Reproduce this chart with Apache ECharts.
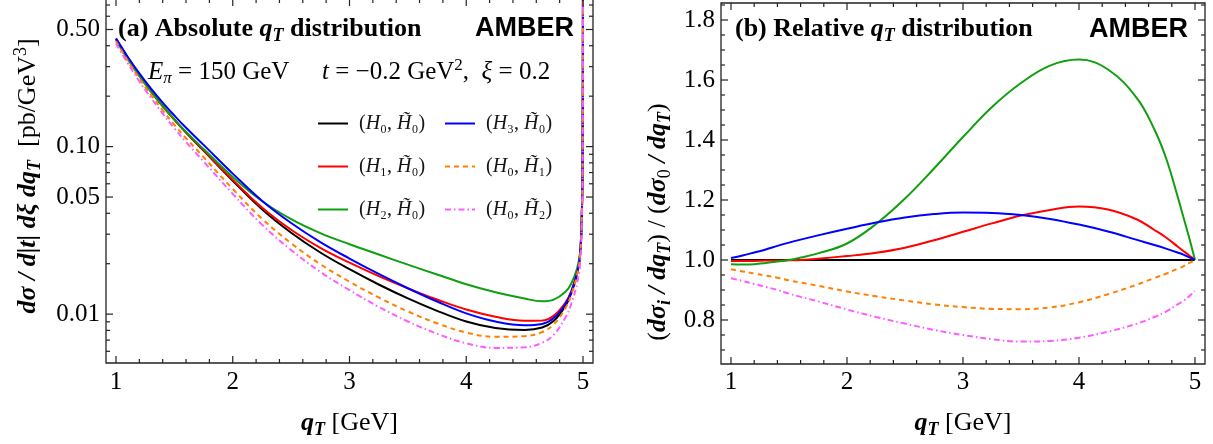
<!DOCTYPE html>
<html>
<head>
<meta charset="utf-8">
<script src="https://cdn.jsdelivr.net/npm/echarts@6/dist/echarts.min.js"></script>
<style>
  html, body { margin: 0; padding: 0; background: #fff; }
  #chart { width: 1213px; height: 444px; }
</style>
</head>
<body>
<div id="chart"></div>
<script>
// transverse momentum grid (GeV)
const qT = [1.0, 1.1, 1.2, 1.3, 1.4, 1.5, 1.6, 1.75, 2.0, 2.25, 2.5, 2.75, 3.0, 3.25, 3.5, 3.75,
            4.0, 4.25, 4.5, 4.65, 4.75, 4.85, 4.9, 4.95, 4.975, 4.99, 4.997, 5.0];

// (a) absolute cross sections, pb/GeV^3
const absH0H0 = [0.4395, 0.3388, 0.2667, 0.2143, 0.1750, 0.1449, 0.1213, 0.0946, 0.0625, 0.04227, 0.03062, 0.02333, 0.01854, 0.01503, 0.01242, 0.01047,
                 0.00904, 0.00826, 0.00805, 0.00832, 0.00912, 0.01122, 0.01334, 0.01750, 0.02244, 0.03882, 0.0946, 1.5];
const absH1H0 = [0.4382, 0.3378, 0.2659, 0.2139, 0.1747, 0.1448, 0.1213, 0.0950, 0.0633, 0.04328, 0.03188, 0.02487, 0.02028, 0.01686, 0.01426, 0.01222,
                 0.01065, 0.00965, 0.00914, 0.00915, 0.00980, 0.01172, 0.01374, 0.01776, 0.02262, 0.03894, 0.0947, 1.5];
const absH2H0 = [0.4333, 0.3337, 0.2630, 0.2122, 0.1741, 0.1449, 0.1223, 0.0967, 0.0659, 0.04734, 0.03690, 0.03045, 0.02614, 0.02270, 0.01975, 0.01725,
                 0.01508, 0.01351, 0.01239, 0.01194, 0.01222, 0.01360, 0.01525, 0.01880, 0.02327, 0.03940, 0.0950, 1.5];
const absH3H0 = [0.4426, 0.3439, 0.2734, 0.2218, 0.1832, 0.1533, 0.1295, 0.1024, 0.0690, 0.04755, 0.03497, 0.02690, 0.02147, 0.01739, 0.01428, 0.01190,
                 0.01011, 0.00904, 0.00859, 0.00874, 0.00947, 0.01150, 0.01358, 0.01766, 0.02255, 0.03890, 0.0947, 1.5];
const absH0H1 = [0.4259, 0.3259, 0.2547, 0.2032, 0.1647, 0.1350, 0.1122, 0.0865, 0.0559, 0.03716, 0.02649, 0.01988, 0.01563, 0.01258, 0.01038, 0.00882,
                 0.00777, 0.00732, 0.00739, 0.00782, 0.00870, 0.01089, 0.01306, 0.01733, 0.02233, 0.03874, 0.0945, 1.5];
const absH0H2 = [0.4127, 0.3151, 0.2454, 0.1950, 0.1575, 0.1287, 0.1064, 0.0815, 0.0522, 0.03424, 0.02413, 0.01789, 0.01391, 0.01106, 0.00904, 0.00764,
                 0.00670, 0.00629, 0.00634, 0.00674, 0.00755, 0.00956, 0.01153, 0.01538, 0.01993, 0.03471, 0.0849, 1.35];

// (b) ratios to the (H0, H~0) baseline
const relH0H0 = [1, 1, 1, 1, 1, 1, 1, 1, 1, 1, 1, 1, 1, 1, 1, 1, 1, 1, 1, 1, 1, 1, 1, 1, 1, 1, 1, 1];
const relH1H0 = [0.997, 0.997, 0.997, 0.998, 0.998, 0.999, 1.0, 1.004, 1.013, 1.024, 1.041, 1.066, 1.094, 1.122, 1.148, 1.167,
                 1.178, 1.168, 1.135, 1.10, 1.075, 1.045, 1.03, 1.015, 1.008, 1.003, 1.001, 1.0];
const relH2H0 = [0.986, 0.985, 0.986, 0.99, 0.995, 1.0, 1.008, 1.022, 1.055, 1.12, 1.205, 1.305, 1.41, 1.51, 1.59, 1.648,
                 1.668, 1.635, 1.539, 1.435, 1.34, 1.212, 1.143, 1.074, 1.037, 1.015, 1.004, 1.0];
const relH3H0 = [1.007, 1.015, 1.025, 1.035, 1.047, 1.058, 1.068, 1.082, 1.104, 1.125, 1.142, 1.153, 1.158, 1.157, 1.15, 1.137,
                 1.118, 1.095, 1.067, 1.05, 1.038, 1.025, 1.018, 1.009, 1.005, 1.002, 1.001, 1.0];
const relH0H1 = [0.969, 0.962, 0.955, 0.948, 0.941, 0.932, 0.925, 0.914, 0.895, 0.879, 0.865, 0.852, 0.843, 0.837, 0.836, 0.842,
                 0.859, 0.886, 0.918, 0.94, 0.954, 0.971, 0.979, 0.99, 0.995, 0.998, 0.999, 1.0];
const relH0H2 = [0.939, 0.93, 0.92, 0.91, 0.9, 0.888, 0.877, 0.862, 0.835, 0.81, 0.788, 0.767, 0.75, 0.736, 0.728, 0.730,
                 0.741, 0.761, 0.788, 0.81, 0.828, 0.852, 0.864, 0.879, 0.888, 0.894, 0.897, 0.898];

// ticks
const xMajorTicks = [1, 2, 3, 4, 5];
const xMinorTicks = [1.2, 1.4, 1.6, 1.8, 2.2, 2.4, 2.6, 2.8, 3.2, 3.4, 3.6, 3.8, 4.2, 4.4, 4.6, 4.8];
const absMajorTicks = [0.01, 0.05, 0.1, 0.5];
const absTickLabels = ['0.01', '0.05', '0.10', '0.50'];
const absMinorTicks = [0.006, 0.007, 0.008, 0.009, 0.02, 0.03, 0.04, 0.06, 0.07, 0.08, 0.09, 0.2, 0.3, 0.4, 0.6, 0.7];
const relMajorTicks = [0.8, 1.0, 1.2, 1.4, 1.6, 1.8];
const relTickLabels = ['0.8', '1.0', '1.2', '1.4', '1.6', '1.8'];
const relMinorTicks = [0.7, 0.75, 0.85, 0.9, 0.95, 1.05, 1.1, 1.15, 1.25, 1.3, 1.35, 1.45, 1.5, 1.55, 1.65, 1.7, 1.75, 1.85];

// curve styling
const curveKeys = ['H0H0', 'H1H0', 'H2H0', 'H3H0', 'H0H1', 'H0H2'];
const curveColors = ['#000000', '#ff0000', '#0f9f0f', '#0000ff', '#ff8000', '#ff5cff'];
const curveDash = ['solid', 'solid', 'solid', 'solid', [5, 4], [6, 3, 1.5, 3]];
const legendText = {
  H0H0: '{n|(}{i|H}{n|₀, }{i|H̃}{n|₀)}',
  H1H0: '{n|(}{i|H}{n|₁, }{i|H̃}{n|₀)}',
  H2H0: '{n|(}{i|H}{n|₂, }{i|H̃}{n|₀)}',
  H3H0: '{n|(}{i|H}{n|₃, }{i|H̃}{n|₀)}',
  H0H1: '{n|(}{i|H}{n|₀, }{i|H̃}{n|₁)}',
  H0H2: '{n|(}{i|H}{n|₀, }{i|H̃}{n|₂)}'
};

const absData = [absH0H0, absH1H0, absH2H0, absH3H0, absH0H1, absH0H2];
const relData = [relH0H0, relH1H0, relH2H0, relH3H0, relH0H1, relH0H2];

const INK = '#141414';
const FRAME = '#222222';
const SERIF = "'Liberation Serif', 'Times New Roman', serif";
const SANS = "'Liberation Sans', Arial, sans-serif";

const gridA = { left: 106, top: -1, width: 487, height: 364 };
const gridB = { left: 721, top: 3, width: 484, height: 361 };

function richSet(size) {
  const s = Math.round(size * 0.68);
  return {
    n:   { fontFamily: SERIF, fontSize: size, color: INK },
    b:   { fontFamily: SERIF, fontSize: size, fontWeight: 'bold', color: INK },
    i:   { fontFamily: SERIF, fontSize: size, fontStyle: 'italic', color: INK },
    bi:  { fontFamily: SERIF, fontSize: size, fontWeight: 'bold', fontStyle: 'italic', color: INK },
    bis: { fontFamily: SERIF, fontSize: s, fontWeight: 'bold', fontStyle: 'italic', color: INK, padding: [Math.round(size * 0.58), 0, 0, 0] },
    is:  { fontFamily: SERIF, fontSize: s, fontStyle: 'italic', color: INK, padding: [Math.round(size * 0.58), 0, 0, 0] },
    ns:  { fontFamily: SERIF, fontSize: s, color: INK, padding: [Math.round(size * 0.58), 0, 0, 0] },
    sup: { fontFamily: SERIF, fontSize: s, color: INK, padding: [0, 0, Math.round(size * 0.5), 0] }
  };
}

const chart = echarts.init(document.getElementById('chart'), null, { renderer: 'canvas' });

const series = [];
curveKeys.forEach((key, k) => {
  const common = {
    name: key, type: 'line', showSymbol: false, symbol: 'none',
    smooth: 0.4, clip: true, z: 3 + k,
    lineStyle: { color: curveColors[k], width: 2, type: curveDash[k] },
    itemStyle: { color: curveColors[k] },
    emphasis: { disabled: true }
  };
  series.push(Object.assign({}, common, {
    xAxisIndex: 0, yAxisIndex: 0,
    data: qT.map((x, j) => [x, absData[k][j]])
  }));
  series.push(Object.assign({}, common, {
    xAxisIndex: 1, yAxisIndex: 1,
    data: qT.map((x, j) => [x, relData[k][j]])
  }));
});

const legendCommon = {
  orient: 'vertical', itemWidth: 30, itemHeight: 14, itemGap: 20,
  selectedMode: false,
  itemStyle: { opacity: 0, borderWidth: 0 },
  formatter: name => legendText[name],
  textStyle: { padding: [0, 0, 0, 6], lineHeight: 23, rich: richSet(20) }
};

chart.setOption({
  animation: false,
  backgroundColor: '#ffffff',
  grid: [
    Object.assign({ show: false }, gridA),
    Object.assign({ show: false }, gridB)
  ],
  xAxis: [
    { type: 'value', gridIndex: 0, min: 0.9143, max: 5.0857, show: false },
    { type: 'value', gridIndex: 1, min: 0.9138, max: 5.0862, show: false }
  ],
  yAxis: [
    { type: 'log', logBase: 10, gridIndex: 0, min: 0.00511, max: 0.75, show: false },
    { type: 'value', gridIndex: 1, min: 0.6533, max: 1.8567, show: false }
  ],
  legend: [
    Object.assign({}, legendCommon, { left: 312, top: 107, data: ['H0H0', 'H1H0', 'H2H0'] }),
    Object.assign({}, legendCommon, { left: 439, top: 107, data: ['H3H0', 'H0H1', 'H0H2'] })
  ],
  series: series
});

// frame, ticks, tick labels and annotations placed through the axis scales
function decorations() {
  const g = [];
  const seg = (x1, y1, x2, y2) => g.push({
    type: 'line', silent: true, z: 20,
    shape: { x1, y1, x2, y2 }, style: { stroke: FRAME, lineWidth: 1.2 }
  });
  const label = (x, y, text, align, vAlign, rich, rotation) => g.push({
    type: 'text', silent: true, z: 20, x, y, rotation: rotation || 0,
    style: { text, align, verticalAlign: vAlign, rich }
  });

  const panels = [
    { rect: gridA, xRef: 3, yRef: 0.05, yMajor: absMajorTicks, yLabels: absTickLabels, yMinor: absMinorTicks },
    { rect: gridB, xRef: 3, yRef: 1.0, yMajor: relMajorTicks, yLabels: relTickLabels, yMinor: relMinorTicks }
  ];
  const tickRich = richSet(25);
  const MAJ = 7, MIN = 4;

  panels.forEach((p, gi) => {
    const L = p.rect.left, T = p.rect.top, R = L + p.rect.width, B = T + p.rect.height;
    g.push({ type: 'rect', silent: true, z: 20,
      shape: { x: L, y: T, width: p.rect.width, height: p.rect.height },
      style: { fill: 'none', stroke: FRAME, lineWidth: 1.3 } });
    const px = v => chart.convertToPixel({ gridIndex: gi }, [v, p.yRef])[0];
    const py = v => chart.convertToPixel({ gridIndex: gi }, [p.xRef, v])[1];

    xMajorTicks.forEach(v => {
      const x = px(v);
      seg(x, B, x, B - MAJ); seg(x, T, x, T + MAJ);
      label(x, 370, '{n|' + v + '}', 'center', 'top', tickRich);
    });
    xMinorTicks.forEach(v => {
      const x = px(v);
      seg(x, B, x, B - MIN); seg(x, T, x, T + MIN);
    });
    p.yMajor.forEach((v, k) => {
      const y = py(v);
      seg(L, y, L + MAJ, y); seg(R, y, R - MAJ, y);
      label(L - 6, y, '{n|' + p.yLabels[k] + '}', 'right', 'middle', tickRich);
    });
    p.yMinor.forEach(v => {
      const y = py(v);
      seg(L, y, L + MIN, y); seg(R, y, R - MIN, y);
    });

    // horizontal axis title
    label(L + p.rect.width / 2, 423, '{bi|q}{bis|T}{n| [GeV]}', 'center', 'middle', richSet(26));
  });

  // panel titles and tags
  label(118, 29, '{b|(a) Absolute }{bi|q}{bis|T}{b| distribution}', 'left', 'middle', richSet(26));
  label(735, 29, '{b|(b) Relative }{bi|q}{bis|T}{b| distribution}', 'left', 'middle', richSet(26));
  const tag = { t: { fontFamily: SANS, fontSize: 27, fontWeight: 'bold', color: '#000' } };
  label(574, 29, '{t|AMBER}', 'right', 'middle', tag);
  label(1188, 30, '{t|AMBER}', 'right', 'middle', tag);

  // kinematics
  label(148, 72, '{i|E}{is|π}{n| = 150 GeV}', 'left', 'middle', richSet(25));
  label(322, 72, '{i|t}{n| = −0.2 GeV}{sup|2}{n|,  }{i|ξ}{n| = 0.2}', 'left', 'middle', richSet(25));

  // vertical axis titles
  label(28, 176, '{bi|dσ / d|t| dξ dq}{bis|T}{n|  [pb/GeV}{sup|3}{n|]}', 'center', 'middle', richSet(26), Math.PI / 2);
  label(658, 222, '{n|(}{bi|dσ}{bis|i}{bi| / dq}{bis|T}{n|) / (}{bi|dσ}{ns|0}{bi| / dq}{bis|T}{n|)}', 'center', 'middle', richSet(26), Math.PI / 2);

  return g;
}

chart.setOption({ graphic: decorations() });
</script>
</body>
</html>
